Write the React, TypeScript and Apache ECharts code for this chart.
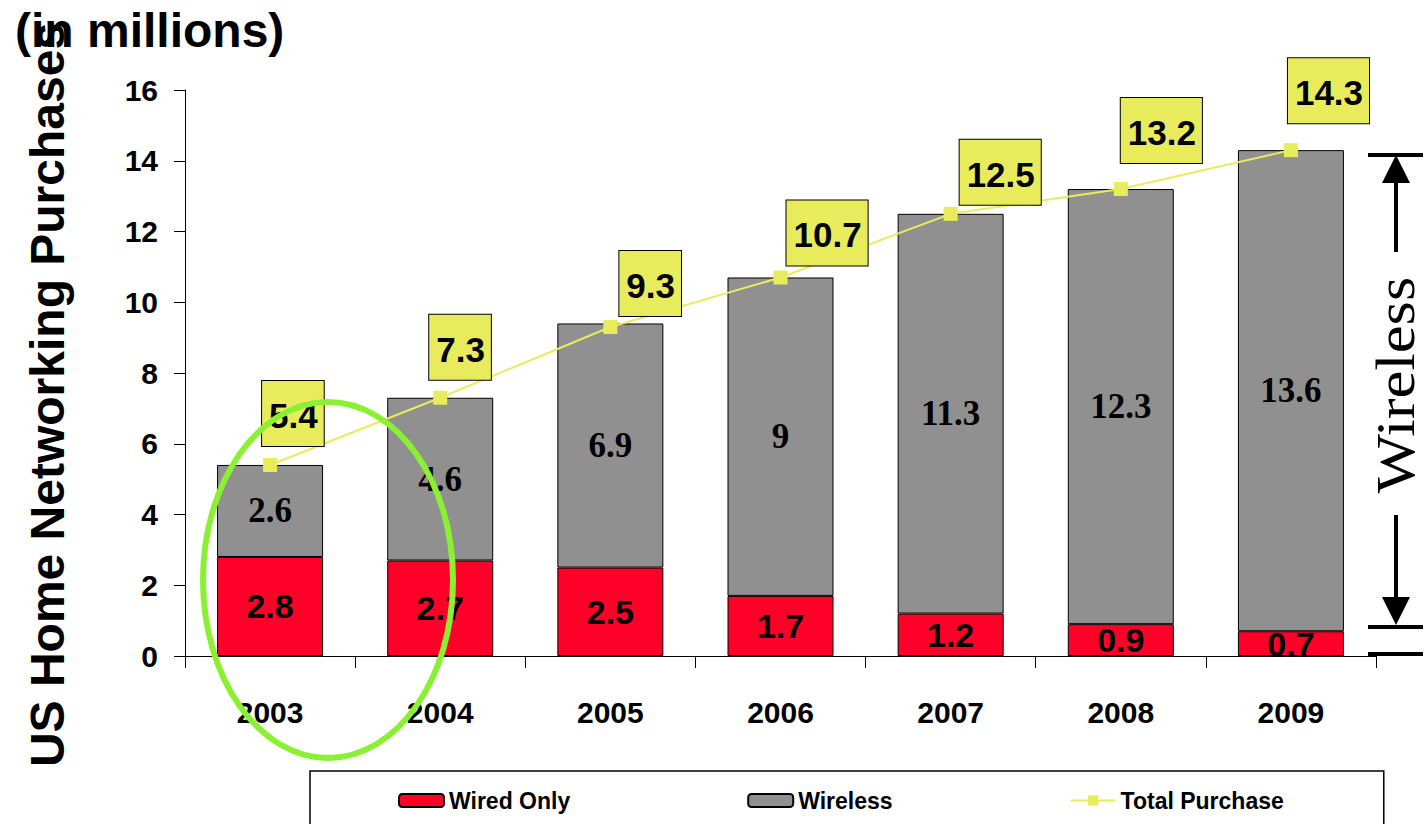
import React, { useEffect, useRef } from "react";
import * as echarts from "echarts";

const years = ["2003", "2004", "2005", "2006", "2007", "2008", "2009"];
const wiredOnly = [2.8, 2.7, 2.5, 1.7, 1.2, 0.9, 0.7];
const wireless = [2.6, 4.6, 6.9, 9, 11.3, 12.3, 13.6];
const totalPurchase = [5.4, 7.3, 9.3, 10.7, 12.5, 13.2, 14.3];
// per-label nudges (pixels) of the callout boxes, as placed in the original
const labelNudge = [[-5, 1], [-8, 2], [12, 9], [9, 8], [12, 11], [3, -6], [0, -7]];

const RED = "#FF0029";
const GRAY = "#909090";
const YELLOW = "#E8EC5C";
const GREEN = "#8CF032";
const SANS = "'Liberation Sans', Arial, sans-serif";
const SERIF = "'Liberation Serif', 'Times New Roman', serif";

export default function App() {
  const ref = useRef<HTMLDivElement>(null);
  useEffect(() => {
    if (!ref.current) return;
    const chart = echarts.init(ref.current, undefined, { renderer: "svg" });
    const totalData = totalPurchase.map((v, i) => ({
      value: v,
      label: { offset: [-3 + labelNudge[i][0], labelNudge[i][1]] },
    }));
    chart.setOption({
      animation: false,
      backgroundColor: "#fff",
      grid: { left: 185, right: 51, top: 90, bottom: 168, containLabel: false },
      legend: {
        data: ["Wired Only", "Wireless", "Total Purchase"],
        left: 310,
        top: 771,
        padding: [18, 100, 40, 88],
        itemGap: 177,
        itemWidth: 45,
        itemHeight: 13,
        borderColor: "#000",
        borderWidth: 1.5,
        textStyle: { fontFamily: SANS, fontWeight: "bold", fontSize: 23, color: "#000" },
      },
      xAxis: {
        type: "category",
        data: years,
        axisLine: { lineStyle: { color: "#000", width: 1 } },
        axisTick: { show: true, length: 12, lineStyle: { color: "#000" } },
        axisLabel: { fontFamily: SANS, fontWeight: "bold", fontSize: 30, color: "#000", margin: 41 },
      },
      yAxis: {
        type: "value",
        min: 0,
        max: 16,
        interval: 2,
        splitLine: { show: false },
        axisLine: { show: true, lineStyle: { color: "#000", width: 1 } },
        axisTick: { show: true, length: 11, lineStyle: { color: "#000" } },
        axisLabel: { fontFamily: SANS, fontWeight: "bold", fontSize: 30, color: "#000", margin: 27 },
      },
      series: [
        {
          name: "Wired Only",
          type: "bar",
          stack: "total",
          data: wiredOnly,
          barWidth: 106,
          itemStyle: { color: RED, borderColor: "#000", borderWidth: 1 },
          label: {
            show: true,
            position: "inside",
            color: "#000",
            fontFamily: SANS,
            fontWeight: "bold",
            fontSize: 34,
          },
        },
        {
          name: "Wireless",
          type: "bar",
          stack: "total",
          data: wireless,
          barWidth: 106,
          itemStyle: { color: GRAY, borderColor: "#000", borderWidth: 1 },
          label: {
            show: true,
            position: "inside",
            color: "#000",
            fontFamily: SERIF,
            fontWeight: "bold",
            fontSize: 35,
          },
        },
        {
          name: "Total Purchase",
          type: "line",
          data: totalData,
          z: 5,
          symbol: "rect",
          symbolSize: 14,
          lineStyle: { color: YELLOW, width: 2 },
          itemStyle: { color: YELLOW },
          label: {
            show: true,
            position: "top",
            distance: 13,
            align: "left",
            verticalAlign: "bottom",
            color: "#000",
            fontFamily: SANS,
            fontWeight: "bold",
            fontSize: 35,
            backgroundColor: YELLOW,
            borderColor: "#000",
            borderWidth: 1,
            padding: [17, 6, 13, 7],
          },
        },
      ],
      graphic: [
        {
          type: "text",
          x: 47,
          y: 395,
          rotation: Math.PI / 2,
          style: {
            text: "US Home Networking Purchases",
            font: `bold 48px ${SANS}`,
            fill: "#000",
            align: "center",
            verticalAlign: "middle",
          },
        },
        {
          type: "text",
          x: 15,
          y: 30,
          style: {
            text: "(in millions)",
            font: `bold 48px ${SANS}`,
            fill: "#000",
            align: "left",
            verticalAlign: "middle",
          },
        },
        {
          type: "ellipse",
          shape: { cx: 328, cy: 580, rx: 125, ry: 178 },
          style: { fill: "none", stroke: GREEN, lineWidth: 6 },
          z: 100,
        },
        {
          type: "line",
          shape: { x1: 1368, y1: 155, x2: 1423, y2: 155 },
          style: { stroke: "#000", lineWidth: 4 },
        },
        {
          type: "polygon",
          shape: { points: [[1396, 155], [1382, 183], [1410, 183]] },
          style: { fill: "#000" },
        },
        {
          type: "line",
          shape: { x1: 1396, y1: 183, x2: 1396, y2: 252 },
          style: { stroke: "#000", lineWidth: 4 },
        },
        {
          type: "text",
          x: 1396,
          y: 385,
          rotation: Math.PI / 2,
          scaleX: 1.16,
          style: {
            text: "Wireless",
            font: `54px ${SERIF}`,
            fill: "#000",
            align: "center",
            verticalAlign: "middle",
          },
        },
        {
          type: "line",
          shape: { x1: 1396, y1: 515, x2: 1396, y2: 597 },
          style: { stroke: "#000", lineWidth: 4 },
        },
        {
          type: "polygon",
          shape: { points: [[1382, 597], [1410, 597], [1396, 625]] },
          style: { fill: "#000" },
        },
        {
          type: "line",
          shape: { x1: 1368, y1: 627, x2: 1423, y2: 627 },
          style: { stroke: "#000", lineWidth: 4 },
        },
        {
          type: "line",
          shape: { x1: 1368, y1: 654, x2: 1423, y2: 654 },
          style: { stroke: "#000", lineWidth: 4 },
        },
      ],
    });
    return () => chart.dispose();
  }, []);
  return <div ref={ref} style={{ width: 1427, height: 824, position: "absolute", left: 0, top: 0 }} />;
}
